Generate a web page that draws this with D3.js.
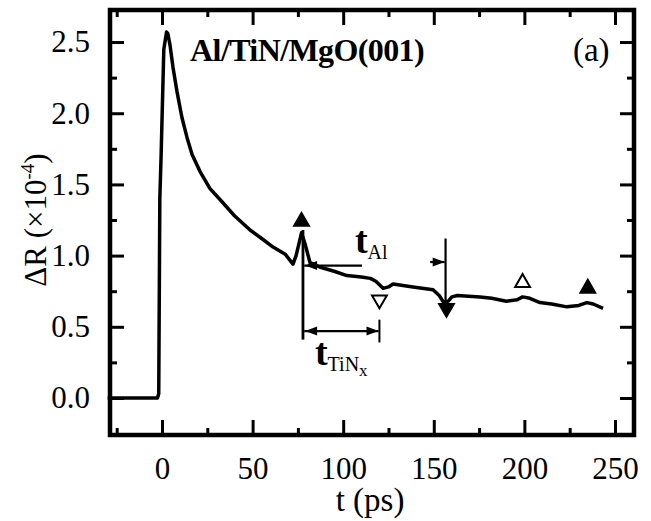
<!DOCTYPE html>
<html>
<head>
<meta charset="utf-8">
<script src="https://cdn.jsdelivr.net/npm/d3@7"></script>
<style>
  body { margin: 0; background: #fff; }
  text { font-family: "Liberation Serif", "Times New Roman", serif; fill: #000; }
</style>
</head>
<body>
<svg width="651" height="521"></svg>
<script>
// time (ps) and signal dR (x1e-4)
var times = [-30, -2.5, -1.8, -1.2, -0.5, 1, 2.5, 3.2, 4.4, 6.1, 8.3, 11, 13.8, 16.6, 21, 26.5, 33, 40, 48.6, 55, 61.3, 68, 72.3,
    74, 77, 79, 81.7, 87, 95, 102, 110, 115, 118, 122, 125, 127.5, 138.5, 149.6, 153, 155.5, 158,
    160, 163, 175.5, 182, 190, 196, 199, 203, 208.6, 215, 223.5, 230, 234.5, 238, 243.4];
var signal = [0, 0, 0.03, 1.4, 1.7, 2.45, 2.57, 2.56, 2.48, 2.32, 2.15, 1.97, 1.83, 1.71, 1.59, 1.47, 1.38, 1.28, 1.18, 1.12, 1.06, 1.01, 0.94,
    1.0, 1.16, 1.08, 0.95, 0.92, 0.89, 0.86, 0.85, 0.84, 0.82, 0.77, 0.78, 0.8, 0.78, 0.76, 0.72, 0.67, 0.68,
    0.71, 0.72, 0.71, 0.7, 0.68, 0.69, 0.71, 0.7, 0.67, 0.66, 0.64, 0.65, 0.67, 0.66, 0.63];

// triangle markers
var markT = [77, 120, 157, 199, 235];
var markV = [1.24, 0.69, 0.63, 0.81, 0.77];
var markDir = ["up", "down", "down", "up", "up"];
var markFill = [true, false, true, false, true];

var xTicks = [0, 50, 100, 150, 200, 250];
var xMinor = [-25, 25, 75, 125, 175, 225];
var yTicks = [0, 0.5, 1.0, 1.5, 2.0, 2.5];
var yMinor = [0.25, 0.75, 1.25, 1.75, 2.25];

var svg = d3.select("svg"),
    margin = {top: 10, right: 17, bottom: 86, left: 110},
    width = 651 - margin.left - margin.right,
    height = 521 - margin.top - margin.bottom;

var x = d3.scaleLinear().domain([-28.7, 260.5]).range([0, width]);
var y = d3.scaleLinear().domain([-0.26, 2.725]).range([height, 0]);

var g = svg.append("g").attr("transform", `translate(${margin.left},${margin.top})`);

function styleAxis (sel) {
    sel.select(".domain").remove();
    sel.selectAll("line").attr("stroke", "#000").attr("stroke-width", 3);
    sel.selectAll("text")
        .style("font-family", "Liberation Serif")
        .style("font-size", "31px")
        .attr("fill", "#000");
}

// major ticks with labels
g.append("g").attr("transform", `translate(0,${height})`)
    .call(d3.axisBottom(x).tickValues(xTicks).tickSize(-15).tickPadding(22).tickFormat(d3.format("d")))
    .call(styleAxis);
g.append("g")
    .call(d3.axisLeft(y).tickValues(yTicks).tickSize(-14).tickPadding(20).tickFormat(d3.format(".1f")))
    .call(styleAxis);
g.append("g")
    .call(d3.axisTop(x).tickValues(xTicks).tickSize(-15).tickFormat(""))
    .call(styleAxis);
g.append("g").attr("transform", `translate(${width},0)`)
    .call(d3.axisRight(y).tickValues(yTicks).tickSize(-14).tickFormat(""))
    .call(styleAxis);

// minor ticks
g.append("g").attr("transform", `translate(0,${height})`)
    .call(d3.axisBottom(x).tickValues(xMinor).tickSize(-7).tickFormat(""))
    .call(styleAxis);
g.append("g")
    .call(d3.axisTop(x).tickValues(xMinor).tickSize(-7).tickFormat(""))
    .call(styleAxis);
g.append("g")
    .call(d3.axisLeft(y).tickValues(yMinor).tickSize(-7).tickFormat(""))
    .call(styleAxis);
g.append("g").attr("transform", `translate(${width},0)`)
    .call(d3.axisRight(y).tickValues(yMinor).tickSize(-7).tickFormat(""))
    .call(styleAxis);

// frame
g.append("rect")
    .attr("width", width).attr("height", height)
    .attr("fill", "none").attr("stroke", "#000").attr("stroke-width", 4.5);

// data curve
var line = d3.line()
    .x((d, i) => x(times[i]))
    .y((d) => y(d));

g.append("path")
    .datum(signal)
    .attr("d", line)
    .attr("fill", "none")
    .attr("stroke", "#000")
    .attr("stroke-width", 3.5)
    .attr("stroke-linejoin", "round");

// markers
var tri = d3.symbol().type(d3.symbolTriangle).size(95);
markT.forEach((t, i) => {
    let rot = markDir[i] === "down" ? 180 : 0;
    g.append("path")
        .attr("d", tri())
        .attr("transform", `translate(${x(t)},${y(markV[i])}) rotate(${rot})`)
        .attr("fill", markFill[i] ? "#000" : "#fff")
        .attr("stroke", "#000")
        .attr("stroke-width", 2);
});

// annotation lines
function seg (t1, v1, t2, v2, w) {
    g.append("line")
        .attr("x1", x(t1)).attr("y1", y(v1))
        .attr("x2", x(t2)).attr("y2", y(v2))
        .attr("stroke", "#000").attr("stroke-width", w || 2.2);
}
function head (t, v, dir) {
    let px = x(t), py = y(v), s = dir === "left" ? 1 : -1;
    g.append("path")
        .attr("d", `M${px},${py} L${px + s * 12},${py - 4.5} L${px + s * 12},${py + 4.5} Z`)
        .attr("fill", "#000");
}

seg(77.8, 1.18, 77.8, 0.41, 2.8);
seg(156.5, 1.12, 156.5, 0.65, 2.2);
// t_Al arrows
seg(78.5, 0.93, 110.4, 0.93);
head(79, 0.93, "left");
seg(148, 0.955, 156, 0.955);
head(156, 0.955, "right");
// t_TiNx arrow
seg(78.5, 0.47, 119.5, 0.47);
head(79, 0.47, "left");
head(119.5, 0.47, "right");
seg(120, 0.55, 120, 0.39, 2);

// texts
var tAl = g.append("text")
    .attr("x", x(106.5)).attr("y", y(1.02))
    .style("font-size", "38px").style("font-weight", "bold");
tAl.append("tspan").text("t");
tAl.append("tspan").attr("dy", 6).style("font-size", "20px").style("font-weight", "normal").text("Al");

var tTi = g.append("text")
    .attr("x", x(84.4)).attr("y", y(0.23))
    .style("font-size", "38px").style("font-weight", "bold");
tTi.append("tspan").text("t");
tTi.append("tspan").attr("dy", 6).style("font-size", "20px").style("font-weight", "normal").text("TiN");
tTi.append("tspan").attr("dy", 5).style("font-size", "17px").style("font-weight", "normal").text("x");

g.append("text")
    .attr("x", x(15.5)).attr("y", y(2.37))
    .style("font-size", "32px").style("font-weight", "bold")
    .style("letter-spacing", "-0.6px")
    .text("Al/TiN/MgO(001)");

g.append("text")
    .attr("x", x(247)).attr("y", y(2.37))
    .attr("text-anchor", "end")
    .style("font-size", "33px")
    .text("(a)");

// axis titles
g.append("text")
    .attr("x", width / 2 - 2).attr("y", height + 76)
    .attr("text-anchor", "middle")
    .style("font-size", "33px")
    .text("t (ps)");

var yl = svg.append("text")
    .attr("transform", `translate(46,220) rotate(-90)`)
    .attr("text-anchor", "middle")
    .style("font-size", "31px");
yl.append("tspan").text("\u0394R (\u00d710");
yl.append("tspan").attr("dy", -12).style("font-size", "19px").text("-4");
yl.append("tspan").attr("dy", 12).text(")");
</script>
</body>
</html>
